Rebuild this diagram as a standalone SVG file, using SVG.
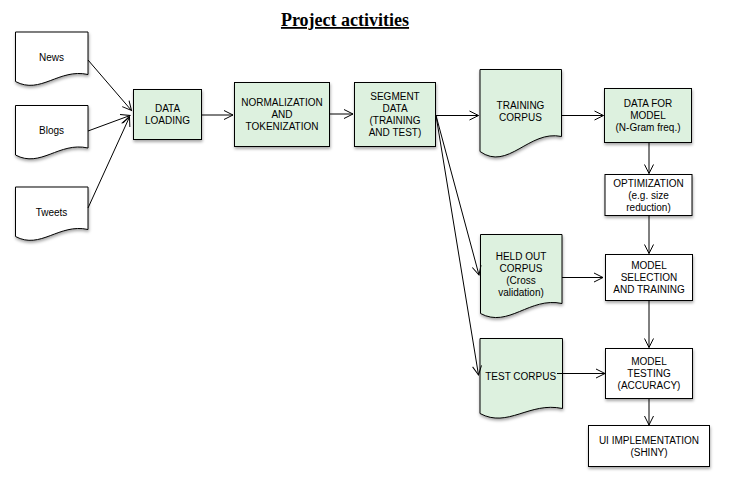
<svg xmlns="http://www.w3.org/2000/svg" xmlns:xlink="http://www.w3.org/1999/xlink" width="729" height="492" viewBox="0 0 729 492">
<defs>
<filter id="sh" x="-10%" y="-10%" width="130%" height="130%">
<feDropShadow dx="0.5" dy="2" stdDeviation="1.4" flood-color="#000" flood-opacity="0.35"/>
</filter>
<marker id="ah" viewBox="-10 -6 12 12" refX="0" refY="0" markerWidth="12" markerHeight="12" markerUnits="userSpaceOnUse" orient="auto">
<path d="M-9,-4.5 L0,0 L-9,4.5" fill="none" stroke="#000" stroke-width="1"/>
</marker>
<path id="docS" d="M0,0 H72.5 V42.5 C43.5,36 25,63 0,49.5 Z"/>
<path id="docTrain" d="M0,0 H81.5 V67 C49,60 28,102 0,82 Z"/>
<path id="docHeld" d="M0,0 H81.5 V69 C49,62 28,94 0,79 Z"/>
<path id="docTest" d="M0,0 H82.5 V70 C49,63 28,90 0,75 Z"/>
</defs>
<style>
.w{fill:#ffffff;stroke:#000;stroke-width:1;filter:url(#sh)}
.g{fill:#ddf1df;stroke:#000;stroke-width:1;filter:url(#sh)}
.t{font-family:"Liberation Sans",Arial,sans-serif;font-size:10px;fill:#000;text-anchor:middle}
.c{fill:none;stroke:#000;stroke-width:1;marker-end:url(#ah)}
.title{font-family:"Liberation Serif","Times New Roman",serif;font-size:18px;font-weight:bold;text-anchor:middle;text-decoration:underline}
</style>
<rect width="729" height="492" fill="#ffffff"/>
<text class="title" x="345" y="26">Project activities</text>

<g id="news"><use xlink:href="#docS" href="#docS" x="15.5" y="32" class="w"/><text class="t" x="51.5" y="61">News</text></g>
<g id="blogs"><use xlink:href="#docS" href="#docS" x="15.5" y="105.5" class="w"/><text class="t" x="51.5" y="133.5">Blogs</text></g>
<g id="tweets"><use xlink:href="#docS" href="#docS" x="15.5" y="187" class="w"/><text class="t" x="51.5" y="216">Tweets</text></g>

<g id="data-loading"><rect class="g" x="133.5" y="89.5" width="68" height="50"/><text class="t" x="167.5" y="112">DATA</text><text class="t" x="167.5" y="124">LOADING</text></g>
<g id="normalization"><rect class="g" x="234.5" y="82.5" width="95" height="64"/><text class="t" x="282" y="105.5">NORMALIZATION</text><text class="t" x="282" y="117.5">AND</text><text class="t" x="282" y="129.5">TOKENIZATION</text></g>
<g id="segment"><rect class="g" x="354.5" y="82.5" width="81" height="64"/><text class="t" x="395" y="99.5">SEGMENT</text><text class="t" x="395" y="111.5">DATA</text><text class="t" x="395" y="123.5">(TRAINING</text><text class="t" x="395" y="135.5">AND TEST)</text></g>
<g id="training-corpus"><use xlink:href="#docTrain" href="#docTrain" x="480" y="69.5" class="g"/><text class="t" x="520.5" y="108.5">TRAINING</text><text class="t" x="520.5" y="120.5">CORPUS</text></g>
<g id="data-for-model"><rect class="g" x="604.5" y="88.5" width="87" height="54"/><text class="t" x="648" y="107">DATA FOR</text><text class="t" x="648" y="119">MODEL</text><text class="t" x="648" y="131">(N-Gram freq.)</text></g>
<g id="optimization"><rect class="w" x="605" y="174.5" width="87" height="41"/><text class="t" x="648.5" y="187">OPTIMIZATION</text><text class="t" x="648.5" y="199">(e.g. size</text><text class="t" x="648.5" y="211">reduction)</text></g>
<g id="held-out"><use xlink:href="#docHeld" href="#docHeld" x="480.5" y="234.5" class="g"/><text class="t" x="521" y="259.5">HELD OUT</text><text class="t" x="521" y="271.5">CORPUS</text><text class="t" x="521" y="283.5">(Cross</text><text class="t" x="521" y="295.5">validation)</text></g>
<g id="model-selection"><rect class="w" x="605.5" y="254.5" width="87" height="46"/><text class="t" x="649" y="269">MODEL</text><text class="t" x="649" y="281">SELECTION</text><text class="t" x="649" y="293">AND TRAINING</text></g>
<g id="test-corpus"><use xlink:href="#docTest" href="#docTest" x="480" y="338.5" class="g"/><text class="t" x="520.7" y="379.5">TEST CORPUS</text></g>
<g id="model-testing"><rect class="w" x="605.5" y="348.5" width="87" height="50"/><text class="t" x="649" y="364.5">MODEL</text><text class="t" x="649" y="376.5">TESTING</text><text class="t" x="649" y="388.5">(ACCURACY)</text></g>
<g id="ui"><rect class="w" x="588.5" y="425.5" width="121" height="41"/><text class="t" x="649" y="444">UI IMPLEMENTATION</text><text class="t" x="649" y="456">(SHINY)</text></g>

<g id="connectors">
<path class="c" d="M88,60 L131.5,110.5"/>
<path class="c" d="M88,131 L130,115.5"/>
<path class="c" d="M88,208 L129.5,117"/>
<path class="c" d="M202,115 L233,115"/>
<path class="c" d="M330,114 L353,114"/>
<path class="c" d="M436,115.5 L478.5,115.5"/>
<path class="c" d="M562,115.5 L603.5,115.5"/>
<path class="c" d="M649,142.5 L649,173.5"/>
<path class="c" d="M649,216 L649,253.5"/>
<path class="c" d="M436,115.5 L479,275"/>
<path class="c" d="M436,115.5 L478.5,375"/>
<path class="c" d="M562,277.5 L603,277.5"/>
<path class="c" d="M649,301 L649,347.5"/>
<path class="c" d="M557,373.5 L605,373.5"/>
<path class="c" d="M649,398.5 L649,425"/>
</g>
</svg>
